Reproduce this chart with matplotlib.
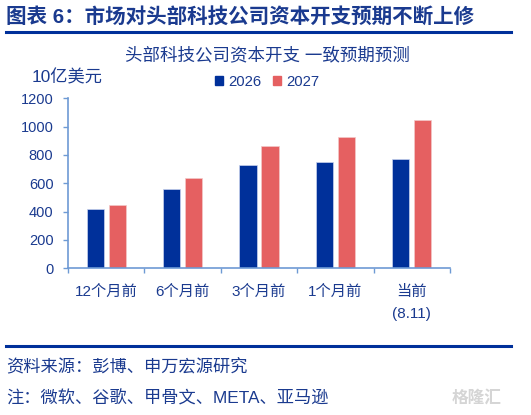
import matplotlib.pyplot as plt
from matplotlib.patches import Patch
from matplotlib.lines import Line2D
import numpy as np

plt.rcParams['font.family'] = ['Liberation Sans', 'Noto Sans CJK SC']

periods = ['12个月前', '6个月前', '3个月前', '1个月前', '当前\n(8.11)']
capex_2026 = [418, 560, 727, 748, 769]
capex_2027 = [444, 635, 863, 929, 1044]
series_names = ['2026', '2027']

navy = '#00309a'
red = '#e56061'
text_blue = '#1a3a8f'
axis_blue = '#6e9ad4'

W, H = 531, 415


def fx(px):
    return px / W


def fy(py):
    return 1 - py / H


fig = plt.figure(figsize=(W / 100, H / 100), dpi=100)

# header
fig.text(fx(6), fy(17), '图表 6：市场对头部科技公司资本开支预期不断上修',
         fontsize=14.8, fontweight='bold', color=text_blue, va='center', ha='left')
fig.add_artist(Line2D([fx(6), fx(511)], [fy(32), fy(32)], color=navy, lw=2.2))

fig.text(fx(267), fy(55), '头部科技公司资本开支 一致预期预测',
         fontsize=12.6, color=text_blue, va='center', ha='center')
fig.text(fx(32), fy(77), '10亿美元', fontsize=12.4, color=text_blue,
         va='center', ha='left')

ax = fig.add_axes([fx(68), fy(268.3), fx(450 - 68), (268.3 - 98.3) / H])

x = np.arange(len(periods))
w = 0.227
ax.bar(x - 0.144, capex_2026, w, color=navy, edgecolor='#c9d3ee', linewidth=0.5)
ax.bar(x + 0.144, capex_2027, w, color=red, edgecolor='#f3c8c8', linewidth=0.5)

ax.set_xlim(-0.5, len(periods) - 0.5)
ax.set_ylim(0, 1200)
ax.set_yticks(np.arange(0, 1201, 200))

ax.set_xticks(x)
ax.set_xticklabels(periods, linespacing=1.75)
ax.set_xticks(np.arange(-0.5, len(periods), 1), minor=True)
ax.tick_params(axis='x', which='major', length=0, pad=12, labelsize=11,
               labelcolor=text_blue)
ax.tick_params(axis='x', which='minor', length=3.5, width=1, color=axis_blue,
               direction='out')
ax.tick_params(axis='y', length=3.5, width=1, color=axis_blue, pad=7,
               labelsize=10.5, labelcolor=text_blue)

for side in ['top', 'right']:
    ax.spines[side].set_visible(False)
for side in ['left', 'bottom']:
    ax.spines[side].set_color(axis_blue)
    ax.spines[side].set_linewidth(1.2)

handles = [Patch(color=navy), Patch(color=red)]
fig.legend(handles, series_names, loc='center', bbox_to_anchor=(fx(267), fy(82)),
           ncol=2, frameon=False, fontsize=10.7, handlelength=0.55,
           handleheight=0.55, handletextpad=0.35, columnspacing=0.8,
           labelcolor=text_blue)

# footer
fig.add_artist(Line2D([fx(6), fx(511)], [fy(346), fy(346)], color=navy, lw=2.2))
fig.text(fx(6), fy(367), '资料来源：彭博、申万宏源研究', fontsize=12.4,
         color=text_blue, va='center', ha='left')
fig.text(fx(6), fy(398), '注：微软、谷歌、甲骨文、META、亚马逊', fontsize=12.4,
         color=text_blue, va='center', ha='left')
fig.text(fx(452), fy(398), '格隆汇', fontsize=12, color='#d5d5d5',
         va='center', ha='left', fontweight='bold')

fig.savefig('out.png', dpi=100)
